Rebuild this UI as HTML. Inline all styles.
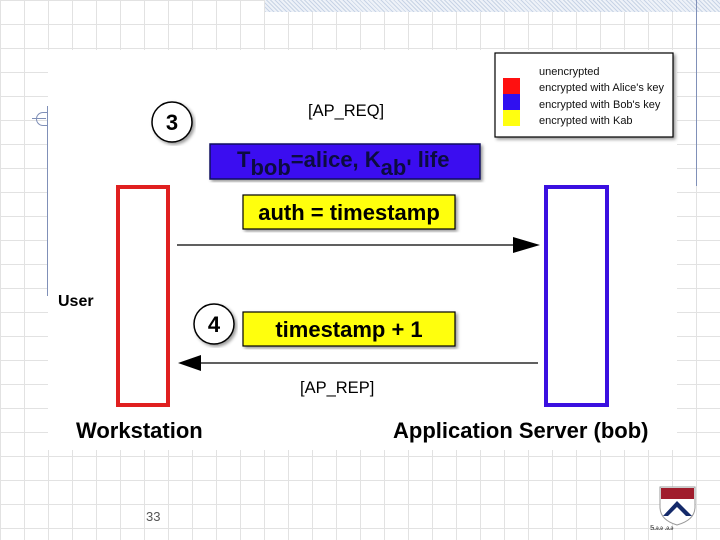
<!DOCTYPE html>
<html><head><style>
body{margin:0;width:720px;height:540px;overflow:hidden;background:#fff;font-family:"Liberation Sans",Arial,sans-serif;}
.abs{position:absolute}
</style></head><body>
<div class="abs" style="left:0;top:0;width:720px;height:540px;background-image:linear-gradient(to right,#e2e2e2 1px,transparent 1px),linear-gradient(to bottom,#e2e2e2 1px,transparent 1px);background-size:24px 24px;"></div>
<div class="abs" style="left:265px;top:0;width:455px;height:12px;background:repeating-linear-gradient(45deg,#c8d4e6 0 1px,#eef2f8 1px 3px);"></div>
<div class="abs" style="left:48px;top:50px;width:629px;height:400px;background:#fff;"></div>
<div class="abs" style="left:696px;top:0;width:1px;height:186px;background:#8090b8;"></div>
<div class="abs" style="left:47px;top:106px;width:1px;height:190px;background:#8090b8;"></div>
<div class="abs" style="left:36px;top:112px;width:10px;height:12px;border:1px solid #8090b8;border-right:none;border-radius:8px 0 0 8px;"></div>
<div class="abs" style="left:32px;top:118px;width:14px;height:1px;background:#8090b8;"></div>

<svg class="abs" style="left:0;top:0" width="720" height="540">
<defs><filter id="sh"><feDropShadow dx="2" dy="2" stdDeviation="1.5" flood-color="#000" flood-opacity="0.4"/></filter></defs>
<rect x="495" y="53" width="178" height="84" fill="#fff" stroke="#000" stroke-width="1.2" filter="url(#sh)"/>
<rect x="503" y="78" width="17" height="16" fill="#ff1010"/>
<rect x="503" y="94" width="17" height="16" fill="#3010f0"/>
<rect x="503" y="110" width="17" height="16" fill="#ffff10"/>
<g font-size="11" fill="#111">
<text x="539" y="75">unencrypted</text>
<text x="539" y="91">encrypted with Alice's key</text>
<text x="539" y="108">encrypted with Bob's key</text>
<text x="539" y="124">encrypted with Kab</text>
</g>
<circle cx="172" cy="122" r="20" fill="#fff" stroke="#000" stroke-width="1.5" filter="url(#sh)"/>
<text x="172" y="130" font-size="22" font-weight="bold" text-anchor="middle">3</text>
<circle cx="214" cy="324" r="20" fill="#fff" stroke="#000" stroke-width="1.5" filter="url(#sh)"/>
<text x="214" y="332" font-size="22" font-weight="bold" text-anchor="middle">4</text>
<text x="308" y="116" font-size="16.5">[AP_REQ]</text>
<text x="300" y="393" font-size="16.5">[AP_REP]</text>
<rect x="210" y="144" width="270" height="35" fill="#3a10f0" stroke="#101060" stroke-width="1.5" filter="url(#sh)"/>
<text x="237" y="167" font-size="22" font-weight="bold" fill="#0c0c40">T<tspan dy="8">bob</tspan><tspan dy="-8">=alice, K</tspan><tspan dy="8">ab'</tspan><tspan dy="-8"> life</tspan></text>
<rect x="243" y="195" width="212" height="34" fill="#ffff10" stroke="#000" stroke-width="1.2" filter="url(#sh)"/>
<text x="349" y="220" font-size="22" font-weight="bold" text-anchor="middle">auth = timestamp</text>
<rect x="243" y="312" width="212" height="34" fill="#ffff10" stroke="#000" stroke-width="1.2" filter="url(#sh)"/>
<text x="349" y="337" font-size="22" font-weight="bold" text-anchor="middle">timestamp + 1</text>
<rect x="118" y="187" width="50" height="218" fill="none" stroke="#e02020" stroke-width="4"/>
<rect x="546" y="187" width="61" height="218" fill="none" stroke="#3a10e0" stroke-width="4"/>
<line x1="177" y1="245" x2="516" y2="245" stroke="#000" stroke-width="1.3"/>
<polygon points="540,245 513,237 513,253" fill="#000"/>
<line x1="200" y1="363" x2="538" y2="363" stroke="#000" stroke-width="1.3"/>
<polygon points="178,363 201,355 201,371" fill="#000"/>
<text x="58" y="306" font-size="16" font-weight="bold">User</text>
<text x="76" y="438" font-size="22" font-weight="bold">Workstation</text>
<text x="393" y="438" font-size="22" font-weight="bold">Application Server (bob)</text>
<text x="146" y="521" font-size="13" fill="#555">33</text>
<path d="M660 487 H695 V507 Q695 520 677 525 Q660 520 660 507 Z" fill="#fff" stroke="#999" stroke-width="1"/>
<rect x="661" y="488" width="33" height="11" fill="#a01c2c"/>
<path d="M663 516 L677 501 L692 516 L686 516 L677 507 L668 516 Z" fill="#142a6a"/>
<text x="650" y="530" font-size="7" fill="#333">Ꭶꭿꭿ ꭿꭿ</text>
</svg>
</body></html>
